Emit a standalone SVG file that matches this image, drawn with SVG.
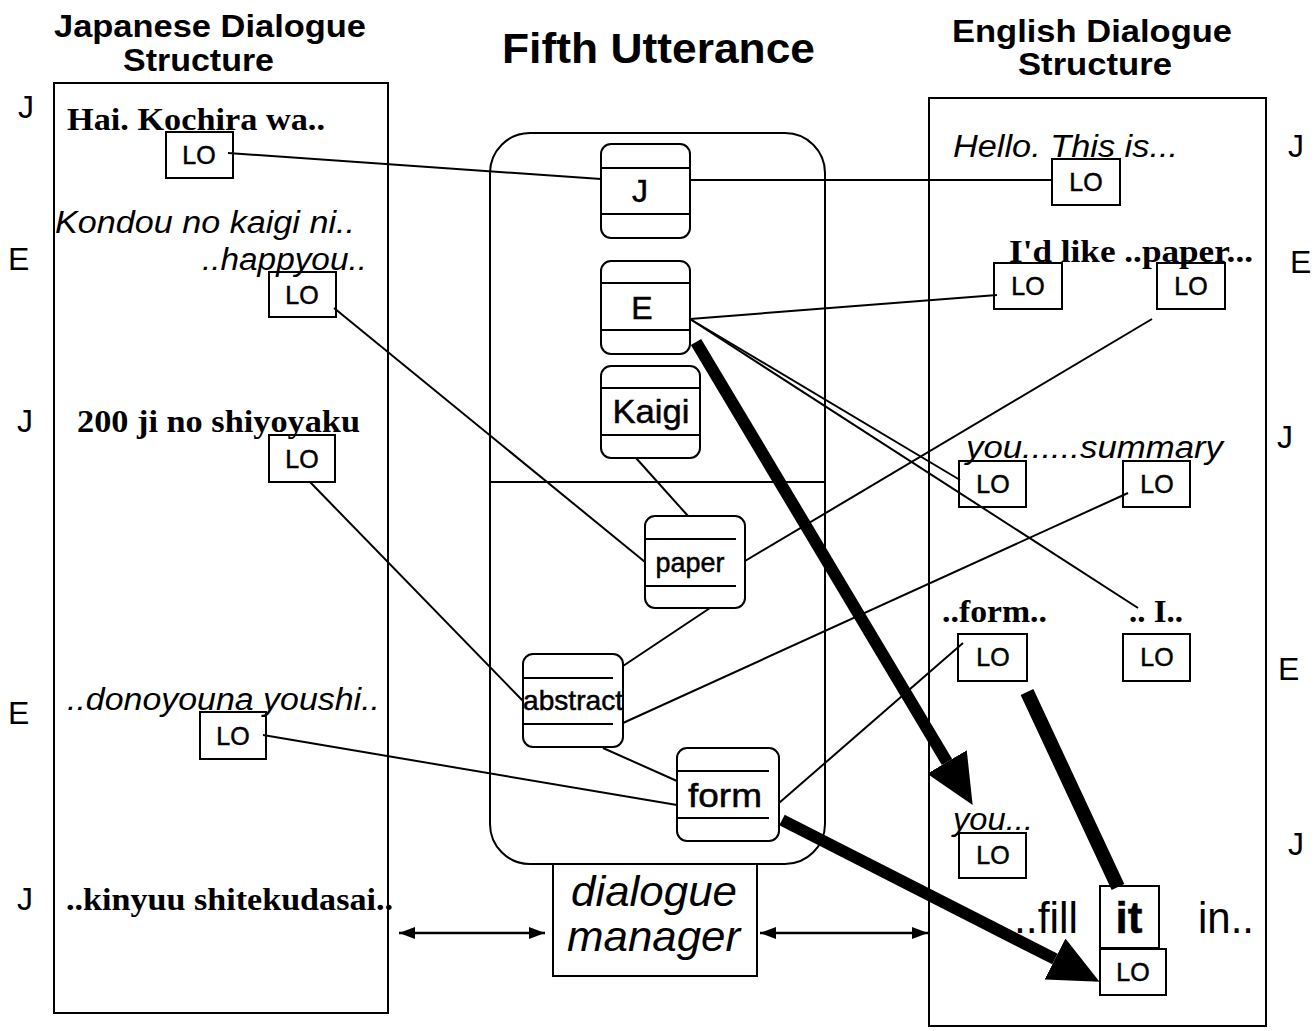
<svg xmlns="http://www.w3.org/2000/svg" width="1316" height="1031" viewBox="0 0 1316 1031">
  <style>
    .frame { fill: none; stroke: #000; stroke-width: 2; }
    .sans { font-family: "Liberation Sans", Arial, sans-serif; }
    .serif { font-family: "Liberation Serif", "Times New Roman", serif; font-weight: bold; }
    .title { font-family: "Liberation Sans", Arial, sans-serif; font-weight: bold; font-size: 31px; }
    .side { font-family: "Liberation Sans", Arial, sans-serif; font-size: 32px; }
    .utt { font-size: 31px; }
    .ital { font-family: "Liberation Sans", Arial, sans-serif; font-style: italic; font-size: 31px; }
    .lo rect { fill: none; stroke: #000; stroke-width: 2; }
    .lo text { font-family: "Liberation Sans", Arial, sans-serif; font-size: 25px; text-anchor: middle; stroke: #000; stroke-width: 0.5; }
    .node rect { fill: #fff; stroke: #000; stroke-width: 2; }
    .node line { stroke: #000; stroke-width: 2; }
    .node text { font-family: "Liberation Sans", Arial, sans-serif; text-anchor: middle; stroke: #000; stroke-width: 0.5; }
    .link { stroke: #000; stroke-width: 2; fill: none; }
    .thick { stroke: #000; stroke-width: 12; fill: none; }
    .dbl { stroke: #000; stroke-width: 2.5; fill: none; marker-start: url(#tip); marker-end: url(#tip); }
  </style>
  <defs>
    <marker id="tip" markerUnits="userSpaceOnUse" viewBox="0 0 16 12" refX="16" refY="6" markerWidth="16" markerHeight="12" orient="auto-start-reverse">
      <path d="M0,0 L16,6 L0,12 z" fill="#000"/>
    </marker>
    <marker id="head" markerUnits="userSpaceOnUse" viewBox="0 0 50 46" refX="0" refY="23" markerWidth="50" markerHeight="46" orient="auto">
      <path d="M0,0 L50,23 L0,46 z" fill="#000"/>
    </marker>
  </defs>

  <!-- headings -->
  <g id="headings">
    <text class="title" x="54" y="37" textLength="312" lengthAdjust="spacingAndGlyphs">Japanese Dialogue</text>
    <text class="title" x="123" y="71" textLength="151" lengthAdjust="spacingAndGlyphs">Structure</text>
    <text class="title" x="502" y="63" style="font-size:42px" textLength="313" lengthAdjust="spacingAndGlyphs">Fifth Utterance</text>
    <text class="title" x="952" y="42" textLength="280" lengthAdjust="spacingAndGlyphs">English Dialogue</text>
    <text class="title" x="1018" y="75" textLength="154" lengthAdjust="spacingAndGlyphs">Structure</text>
  </g>

  <!-- speaker marks beside the two dialogue columns -->
  <g id="speakers" class="side">
    <text x="18" y="118">J</text>
    <text x="8" y="270">E</text>
    <text x="17" y="432">J</text>
    <text x="8" y="724">E</text>
    <text x="17" y="910">J</text>
    <text x="1288" y="157">J</text>
    <text x="1290" y="273">E</text>
    <text x="1277" y="448">J</text>
    <text x="1278" y="680">E</text>
    <text x="1288" y="855">J</text>
  </g>

  <!-- Japanese dialogue structure -->
  <g id="japanese-structure">
    <rect class="frame" x="54" y="83" width="334" height="930"/>
    <text class="serif utt" x="67" y="130" textLength="258" lengthAdjust="spacingAndGlyphs">Hai. Kochira wa..</text>
    <text class="ital" x="55" y="233" textLength="300" lengthAdjust="spacingAndGlyphs">Kondou no kaigi ni..</text>
    <text class="ital" x="202" y="270" textLength="165" lengthAdjust="spacingAndGlyphs">..happyou..</text>
    <text class="serif utt" x="77" y="432" textLength="283" lengthAdjust="spacingAndGlyphs">200 ji no shiyoyaku</text>
    <text class="ital" x="67" y="710" textLength="313" lengthAdjust="spacingAndGlyphs">..donoyouna youshi..</text>
    <text class="serif utt" x="66" y="910" textLength="327" lengthAdjust="spacingAndGlyphs">..kinyuu shitekudasai..</text>
  </g>

  <!-- English dialogue structure -->
  <g id="english-structure">
    <rect class="frame" x="929" y="98" width="337" height="928"/>
    <text class="ital" x="953" y="157" textLength="225" lengthAdjust="spacingAndGlyphs">Hello. This is...</text>
    <text class="serif utt" x="1009" y="262" textLength="244" lengthAdjust="spacingAndGlyphs">I'd like ..paper...</text>
    <text class="ital" x="966" y="458" textLength="257" lengthAdjust="spacingAndGlyphs">you......summary</text>
    <text class="serif utt" x="942" y="622" textLength="105" lengthAdjust="spacingAndGlyphs">..form..</text>
    <text class="serif utt" x="1129" y="622" textLength="54" lengthAdjust="spacingAndGlyphs">.. I..</text>
    <text class="ital" x="953" y="830" textLength="80" lengthAdjust="spacingAndGlyphs">you...</text>
    <text class="sans" x="1014" y="933" style="font-size:44px" textLength="64" lengthAdjust="spacingAndGlyphs">..fill</text>
    <text class="sans" x="1198" y="933" style="font-size:44px" textLength="56" lengthAdjust="spacingAndGlyphs">in..</text>
  </g>

  <!-- fifth utterance frame -->
  <g id="utterance-frame">
    <rect class="frame" x="490" y="133" width="335" height="731" rx="40" ry="40"/>
    <line class="frame" x1="490" y1="482" x2="825" y2="482"/>
  </g>

  <!-- connectors -->
  <g id="connectors">
    <line class="link" x1="228" y1="153" x2="601" y2="179"/>
    <line class="link" x1="690" y1="180" x2="1051" y2="180"/>
    <line class="link" x1="690" y1="319" x2="997" y2="295"/>
    <line class="link" x1="690" y1="319" x2="960" y2="480"/>
    <line class="link" x1="690" y1="319" x2="1138" y2="608"/>
    <line class="link" x1="334" y1="308" x2="645" y2="562"/>
    <line class="link" x1="636" y1="458" x2="688" y2="516"/>
    <line class="link" x1="745" y1="561" x2="1152" y2="319"/>
    <line class="link" x1="710" y1="608" x2="623" y2="666"/>
    <line class="link" x1="310" y1="482" x2="523" y2="701"/>
    <line class="link" x1="623" y1="723" x2="1128" y2="493"/>
    <line class="link" x1="603" y1="748" x2="677" y2="781"/>
    <line class="link" x1="263" y1="735" x2="677" y2="805"/>
    <line class="link" x1="779" y1="803" x2="963" y2="643"/>
    <line class="thick" x1="696" y1="342" x2="947" y2="762" marker-end="url(#head)"/>
    <line class="thick" x1="782" y1="820" x2="1055" y2="959" marker-end="url(#head)"/>
    <line class="thick" style="stroke-width:14" x1="1027" y1="692" x2="1118" y2="887"/>
    <line class="dbl" x1="399" y1="933" x2="545" y2="933"/>
    <line class="dbl" x1="760" y1="933" x2="928" y2="933"/>
  </g>

  <!-- linguistic objects, Japanese side -->
  <g id="lo-hai" class="lo"><rect x="166" y="132" width="67" height="46"/><text x="199" y="164">LO</text></g>
  <g id="lo-happyou" class="lo"><rect x="269" y="272" width="67" height="45"/><text x="302" y="304">LO</text></g>
  <g id="lo-shiyoyaku" class="lo"><rect x="269" y="435" width="66" height="47"/><text x="302" y="468">LO</text></g>
  <g id="lo-youshi" class="lo"><rect x="200" y="712" width="66" height="47"/><text x="233" y="745">LO</text></g>

  <!-- linguistic objects, English side -->
  <g id="lo-hello" class="lo"><rect x="1052" y="159" width="68" height="46"/><text x="1086" y="191">LO</text></g>
  <g id="lo-id" class="lo"><rect x="994" y="263" width="68" height="46"/><text x="1028" y="295">LO</text></g>
  <g id="lo-paper" class="lo"><rect x="1157" y="263" width="68" height="46"/><text x="1191" y="295">LO</text></g>
  <g id="lo-you" class="lo"><rect x="959" y="461" width="67" height="46"/><text x="993" y="493">LO</text></g>
  <g id="lo-summary" class="lo"><rect x="1123" y="461" width="67" height="46"/><text x="1157" y="493">LO</text></g>
  <g id="lo-form" class="lo"><rect x="958" y="634" width="69" height="47"/><text x="993" y="666">LO</text></g>
  <g id="lo-i" class="lo"><rect x="1123" y="634" width="67" height="47"/><text x="1157" y="666">LO</text></g>
  <g id="lo-you2" class="lo"><rect x="959" y="833" width="67" height="45"/><text x="993" y="864">LO</text></g>
  <g id="word-it" class="lo"><rect x="1100" y="886" width="59" height="62"/><text x="1129" y="933" style="font-size:44px;font-weight:bold">it</text></g>
  <g id="lo-it" class="lo"><rect x="1100" y="949" width="66" height="46"/><text x="1133" y="981">LO</text></g>

  <!-- discourse entities of the fifth utterance -->
  <g id="node-j" class="node">
    <rect x="601" y="144" width="89" height="94" rx="10"/>
    <line x1="601" y1="168" x2="690" y2="168"/><line x1="601" y1="214" x2="690" y2="214"/>
    <text x="640" y="202" style="font-size:32px">J</text>
  </g>
  <g id="node-e" class="node">
    <rect x="601" y="261" width="89" height="93" rx="10"/>
    <line x1="601" y1="283" x2="690" y2="283"/><line x1="601" y1="330" x2="690" y2="330"/>
    <text x="642" y="319" style="font-size:32px">E</text>
  </g>
  <g id="node-kaigi" class="node">
    <rect x="601" y="366" width="99" height="92" rx="10"/>
    <line x1="601" y1="388" x2="700" y2="388"/><line x1="601" y1="435" x2="700" y2="435"/>
    <text x="651" y="423" style="font-size:33px" textLength="77" lengthAdjust="spacingAndGlyphs">Kaigi</text>
  </g>
  <g id="node-paper" class="node">
    <rect x="645" y="516" width="100" height="92" rx="10"/>
    <line x1="645" y1="539" x2="736" y2="539"/><line x1="645" y1="586" x2="736" y2="586"/>
    <text x="690" y="572" style="font-size:28px" textLength="69" lengthAdjust="spacingAndGlyphs">paper</text>
  </g>
  <g id="node-abstract" class="node">
    <rect x="523" y="654" width="100" height="93" rx="10"/>
    <line x1="523" y1="678" x2="613" y2="678"/><line x1="523" y1="724" x2="613" y2="724"/>
    <text x="573" y="710" style="font-size:28px" textLength="100" lengthAdjust="spacingAndGlyphs">abstract</text>
  </g>
  <g id="node-form" class="node">
    <rect x="677" y="748" width="102" height="93" rx="10"/>
    <line x1="677" y1="771" x2="769" y2="771"/><line x1="677" y1="818" x2="769" y2="818"/>
    <text x="725" y="807" style="font-size:34px" textLength="74" lengthAdjust="spacingAndGlyphs">form</text>
  </g>

  <!-- dialogue manager -->
  <g id="dialogue-manager">
    <rect x="553" y="864" width="204" height="112" fill="#fff" stroke="#000" stroke-width="2"/>
    <text class="ital" x="571" y="906" style="font-size:42px" textLength="166" lengthAdjust="spacingAndGlyphs">dialogue</text>
    <text class="ital" x="567" y="951" style="font-size:42px" textLength="173" lengthAdjust="spacingAndGlyphs">manager</text>
  </g>
</svg>
